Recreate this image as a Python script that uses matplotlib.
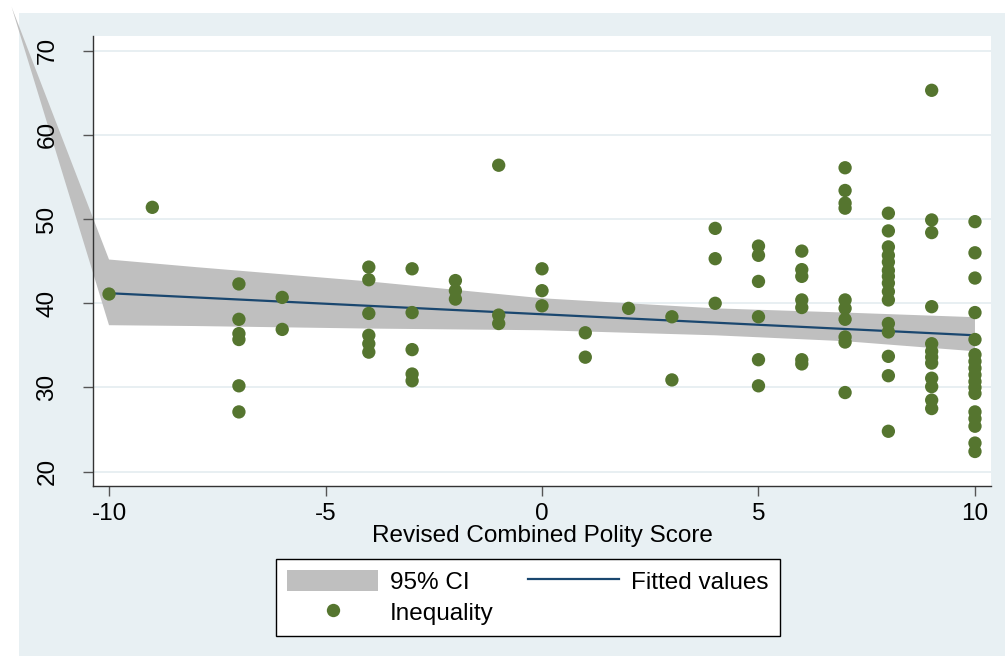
import matplotlib
matplotlib.use('Agg')
import matplotlib.pyplot as plt
from matplotlib.patches import Rectangle, Patch, Polygon
from matplotlib.lines import Line2D

plt.rcParams['font.family'] = ['Liberation Sans', 'DejaVu Sans']

# ---- data ----
polity = ([-10] + [-9] + [-7] * 6 + [-6] * 2 + [-4] * 6 + [-3] * 5 + [-2] * 3 + [-1] * 3
          + [0] * 3 + [1] * 2 + [2] + [3] * 2 + [4] * 3 + [5] * 6 + [6] * 7 + [7] * 10
          + [8] * 15 + [9] * 12 + [10] * 17)
inequality = [
    41.1,
    51.4,
    42.3, 38.1, 36.4, 35.7, 30.2, 27.1,
    40.7, 36.9,
    44.3, 42.8, 38.8, 36.2, 35.2, 34.2,
    44.1, 38.9, 34.5, 31.6, 30.8,
    42.7, 41.5, 40.5,
    56.4, 38.6, 37.6,
    44.1, 41.5, 39.7,
    36.5, 33.6,
    39.4,
    38.4, 30.9,
    48.9, 45.3, 40.0,
    46.8, 45.7, 42.6, 38.4, 33.3, 30.2,
    46.2, 44.0, 43.2, 40.4, 39.5, 33.3, 32.8,
    56.1, 53.4, 51.9, 51.3, 40.4, 39.4, 38.1, 36.0, 35.4, 29.4,
    50.7, 48.6, 46.7, 45.7, 44.9, 43.9, 43.2, 42.4, 41.4, 40.4, 37.6, 36.6, 33.7, 31.4, 24.8,
    65.3, 49.9, 48.4, 39.6, 35.2, 34.3, 33.6, 32.9, 31.1, 30.1, 28.5, 27.5,
    49.7, 46.0, 43.0, 38.9, 35.7, 33.9, 33.1, 32.3, 31.5, 30.7, 30.0, 29.3, 27.1, 26.3, 25.4, 23.4, 22.4,
]

# 95% CI band (first vertex is the stray apex drawn by the original software)
ci_x = [-12.25, -10, -8, -4, 0, 4, 7, 10]
ci_upper = [75.2, 45.2, 44.3, 42.6, 40.6, 39.4, 38.9, 38.35]
ci_lower = [75.2, 37.4, 37.3, 37.0, 36.8, 36.2, 35.5, 34.3]

fit_x = [-10, 10]
fit_y = [41.2, 36.2]

x_ticks = [-10, -5, 0, 5, 10]
y_ticks = [20, 30, 40, 50, 60, 70]
x_label = 'Revised Combined Polity Score'
label_ci = '95% CI'
label_fit = 'Fitted values'
label_pts = 'Inequality'

# ---- styling ----
W, H = 1005, 658
BG = '#E8F0F3'
GRID = '#E6EEF1'
CI_COL = '#BFBFBF'
FIT_COL = '#1A476F'
PT_COL = '#55752F'
FS = 17.5

fig = plt.figure(figsize=(W / 100, H / 100), dpi=100)
fig.patch.set_facecolor('white')
fig.add_artist(Rectangle((19 / W, 2 / H), (W - 19) / W, (656 - 13) / H,
                         transform=fig.transFigure, facecolor=BG,
                         edgecolor='none', zorder=-5))

ax = fig.add_axes([93 / W, 1 - 486 / H, (991 - 93) / W, (486 - 36) / H])
ax.set_facecolor('white')
ax.set_xlim(-10.37, 10.37)
ax.set_ylim(18.30, 71.75)

ax.set_axisbelow(True)
ax.yaxis.grid(True, color=GRID, lw=1.3)
ax.xaxis.grid(False)

poly_x = ci_x + ci_x[::-1]
poly_y = ci_upper + ci_lower[::-1]
# part of the band that spills outside the plot area (behind tick labels)
fig.add_artist(Polygon(list(zip(poly_x, poly_y)), closed=True,
                       transform=ax.transData, facecolor=CI_COL,
                       edgecolor='none', zorder=-1))
# band inside the plot area
ax.fill(poly_x, poly_y, color=CI_COL, lw=0, zorder=1)

ax.plot(fit_x, fit_y, color=FIT_COL, lw=1.6, zorder=2)
ax.scatter(polity, inequality, s=92, color=PT_COL, edgecolors='none', zorder=3)

for s in ['top', 'right']:
    ax.spines[s].set_visible(False)
for s in ['left', 'bottom']:
    ax.spines[s].set_color('#333333')
    ax.spines[s].set_linewidth(1.0)
    ax.spines[s].set_zorder(4)

ax.set_xticks(x_ticks)
ax.set_yticks(y_ticks)
ax.set_xticklabels([str(t) for t in x_ticks])
ax.set_yticklabels([str(t) for t in y_ticks], rotation=90, va='center')
ax.tick_params(axis='both', direction='out', length=7, width=1.0,
               color='#555555', labelsize=FS, labelcolor='black')
ax.tick_params(axis='x', pad=5)
ax.tick_params(axis='y', pad=18)

ax.set_xlabel(x_label, fontsize=FS, labelpad=0)

handles = [Patch(facecolor=CI_COL, edgecolor='none'),
           Line2D([], [], marker='o', ls='none', color=PT_COL, markersize=9.6,
                  markeredgewidth=0),
           Line2D([], [], color=FIT_COL, lw=1.6)]
labels = [label_ci, label_pts, label_fit]
leg = fig.legend(handles, labels, ncol=2, loc='upper left',
                 bbox_to_anchor=(276 / W, 1 - 559 / H),
                 frameon=True, fancybox=False, edgecolor='black', framealpha=1,
                 facecolor='white', fontsize=FS, handlelength=3.75,
                 handleheight=0.95, handletextpad=0.5, columnspacing=1.4,
                 labelspacing=0.3, borderpad=0.45, borderaxespad=0)
leg.get_frame().set_linewidth(1.0)

fig.savefig('out.png', dpi=100)
